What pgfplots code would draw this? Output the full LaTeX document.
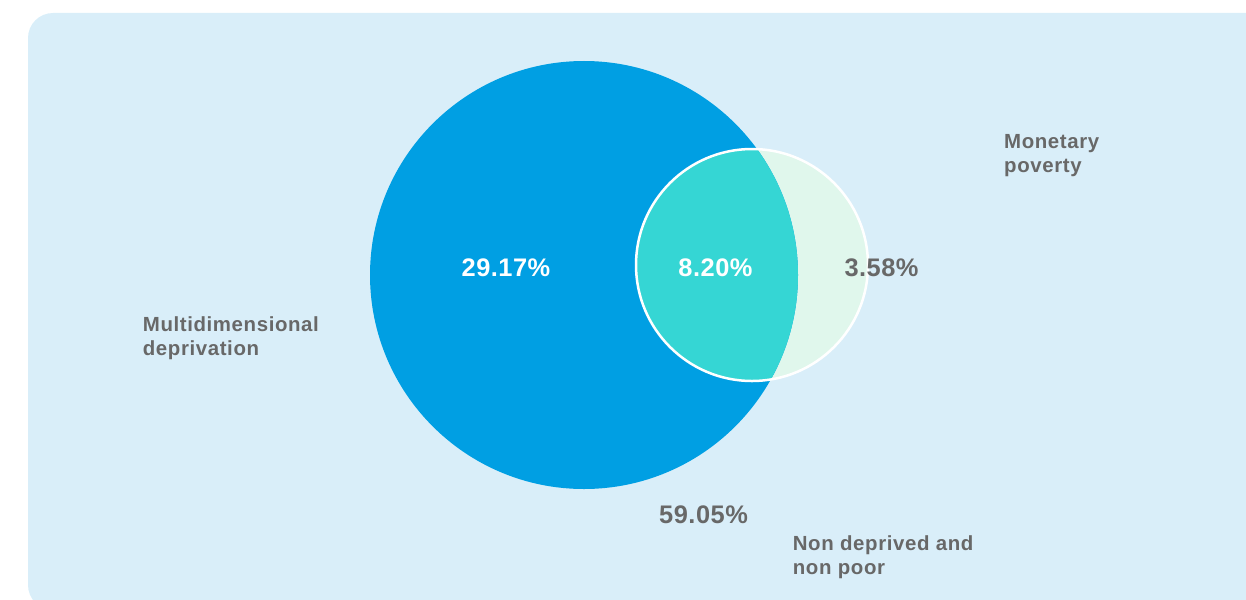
\documentclass[border=0pt]{standalone}
\usepackage{pgfplots}
\pgfplotsset{compat=1.18}
\usepackage{fontspec}
\setmainfont{Liberation Sans}
\newfontfamily\labfont[LetterSpace=3]{Liberation Sans}
\newfontfamily\pctfont[LetterSpace=2]{Liberation Sans}
\definecolor{bgc}{HTML}{D9EEF9}
\definecolor{bigc}{HTML}{009FE3}
\definecolor{midc}{HTML}{35D6D4}
\definecolor{smallc}{HTML}{E0F7EC}
\definecolor{txt}{HTML}{686868}
\begin{document}
\begin{tikzpicture}
\begin{axis}[width=1246bp,height=599bp,scale only axis,
  xmin=0,xmax=1246,ymin=0,ymax=599,y dir=reverse,
  axis lines=none,clip=true]
% full extent (keeps the bounding box equal to the axis)
\path (rel axis cs:0,0) rectangle (rel axis cs:1,1);
% background panel
\fill[bgc,rounded corners=25bp] (axis cs:28,13) rectangle (axis cs:1290,610);
% small circle (monetary poverty)
\fill[smallc] (axis cs:752,265) circle[radius=116];
% big circle (multidimensional deprivation)
\fill[bigc] (axis cs:584,275) circle[radius=214];
% intersection
\begin{scope}
\clip (axis cs:752,265) circle[radius=116];
\fill[midc] (axis cs:584,275) circle[radius=214];
\end{scope}
\draw[white,line width=2.5bp] (axis cs:752,265) circle[radius=116];
% value labels
\tikzset{pct/.style={font=\pctfont\fontsize{25.5}{30}\selectfont\bfseries,inner sep=0pt},
         lab/.style={font=\labfont\fontsize{20.5}{24}\selectfont\bfseries,text=txt,inner sep=0pt,anchor=base west}}
\node[pct,text=white,anchor=base] at (axis cs:506,276.7) {29.17\%};
\node[pct,text=white,anchor=base] at (axis cs:715.5,276.7) {8.20\%};
\node[pct,text=txt,anchor=base west] at (axis cs:844.3,276.7) {3.58\%};
\node[pct,text=txt,anchor=base west] at (axis cs:659,523.3) {59.05\%};
% category labels
\node[lab] at (axis cs:1004,148.3) {Monetary};
\node[lab] at (axis cs:1004,172) {poverty};
\node[lab] at (axis cs:142.7,331.7) {Multidimensional};
\node[lab] at (axis cs:142.7,355.3) {deprivation};
\node[lab] at (axis cs:792.7,550.7) {Non deprived and};
\node[lab] at (axis cs:792.7,574.3) {non poor};
\end{axis}
\end{tikzpicture}
\end{document}
